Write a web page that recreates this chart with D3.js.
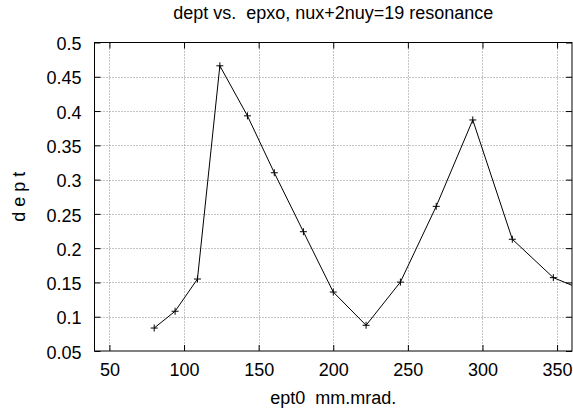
<!DOCTYPE html>
<html>
<head>
<meta charset="utf-8">
<script src="https://cdn.jsdelivr.net/npm/d3@7"></script>
<style>
  body { margin: 0; background: #fff; }
  text { font-family: "Liberation Sans", Arial, sans-serif; fill: #000; }
</style>
</head>
<body>
<svg id="chart" width="573" height="411"></svg>
<script>
const ept0 = [80, 94, 109, 124, 142.5, 160.5, 180, 200, 222, 245, 269, 293.5, 320, 347.5, 376.5];
const dept = [0.0835, 0.108, 0.155, 0.466, 0.393, 0.31, 0.224, 0.136, 0.0875, 0.1505, 0.261, 0.387, 0.213, 0.157, 0.131];
const xTicks = [50, 100, 150, 200, 250, 300, 350];
const yTicks = [0.05, 0.1, 0.15, 0.2, 0.25, 0.3, 0.35, 0.4, 0.45, 0.5];

const svg = d3.select("#chart");
const margin = { left: 94.5, right: 572, top: 42.5, bottom: 351 };

const x = d3.scaleLinear().domain([40, 360]).range([margin.left, margin.right]);
const y = d3.scaleLinear().domain([0.05, 0.5]).range([margin.bottom, margin.top]);

svg.append("defs").append("clipPath").attr("id", "clip")
  .append("rect")
  .attr("x", margin.left).attr("y", margin.top)
  .attr("width", margin.right - margin.left)
  .attr("height", margin.bottom - margin.top);

// grid
const grid = svg.append("g")
  .attr("stroke", "#888")
  .attr("stroke-width", 1)
  .attr("stroke-dasharray", "1,2");
grid.selectAll(".gx")
  .data(xTicks)
  .join("line")
  .attr("x1", (d) => Math.round(x(d)) + 0.5)
  .attr("x2", (d) => Math.round(x(d)) + 0.5)
  .attr("y1", margin.top)
  .attr("y2", margin.bottom);
grid.selectAll(".gy")
  .data(yTicks.slice(1, -1))
  .join("line")
  .attr("x1", margin.left)
  .attr("x2", margin.right)
  .attr("y1", (d) => Math.round(y(d)) + 0.5)
  .attr("y2", (d) => Math.round(y(d)) + 0.5);

// axes (ticks inward on all four sides)
const tk = 6;
svg.append("g")
  .attr("transform", `translate(0,${margin.bottom})`)
  .call(d3.axisBottom(x).tickValues(xTicks).tickSizeInner(-tk).tickSizeOuter(0).tickPadding(12))
  .call((g) => g.select(".domain").remove())
  .call((g) => g.selectAll("text").style("font-size", "18px").attr("font-family", null));
svg.append("g")
  .attr("transform", `translate(0,${margin.top})`)
  .call(d3.axisTop(x).tickValues(xTicks).tickSizeInner(-tk).tickSizeOuter(0).tickFormat(""))
  .call((g) => g.select(".domain").remove());
svg.append("g")
  .attr("transform", `translate(${margin.left},0)`)
  .call(d3.axisLeft(y).tickValues(yTicks).tickSizeInner(-tk).tickSizeOuter(0).tickPadding(13).tickFormat(d3.format("")))
  .call((g) => g.select(".domain").remove())
  .call((g) => g.selectAll("text").style("font-size", "18px").attr("dy", "0.4em").attr("font-family", null));
svg.append("g")
  .attr("transform", `translate(${margin.right},0)`)
  .call(d3.axisRight(y).tickValues(yTicks).tickSizeInner(-tk).tickSizeOuter(0).tickFormat(""))
  .call((g) => g.select(".domain").remove());

svg.append("rect")
  .attr("x", margin.left).attr("y", margin.top)
  .attr("width", margin.right - margin.left)
  .attr("height", margin.bottom - margin.top)
  .attr("fill", "none")
  .attr("stroke", "#000");

// data line
const pts = ept0.map((v, i) => [v, dept[i]]);
const plot = svg.append("g").attr("clip-path", "url(#clip)");
plot.append("path")
  .datum(pts)
  .attr("fill", "none")
  .attr("stroke", "#000")
  .attr("stroke-width", 1)
  .attr("d", d3.line().x((d) => x(d[0])).y((d) => y(d[1])));

plot.selectAll(".mk")
  .data(pts)
  .join("path")
  .attr("stroke", "#000")
  .attr("stroke-width", 1)
  .attr("d", (d) => {
    const cx = x(d[0]), cy = y(d[1]), s = 3.5;
    return `M${cx - s},${cy}H${cx + s}M${cx},${cy - s}V${cy + s}`;
  });

// titles
svg.append("text")
  .attr("x", (margin.left + margin.right) / 2)
  .attr("y", 19)
  .attr("text-anchor", "middle")
  .style("font-size", "18px")
  .style("white-space", "pre")
  .text("dept vs.  epxo, nux+2nuy=19 resonance");

svg.append("text")
  .attr("x", (margin.left + margin.right) / 2)
  .attr("y", 404)
  .attr("text-anchor", "middle")
  .style("font-size", "18px")
  .style("white-space", "pre")
  .text("ept0  mm.mrad.");

svg.append("text")
  .attr("transform", `translate(25,${(margin.top + margin.bottom) / 2}) rotate(-90)`)
  .attr("text-anchor", "middle")
  .style("font-size", "18px")
  .style("white-space", "pre")
  .text("d e p t");
</script>
</body>
</html>
